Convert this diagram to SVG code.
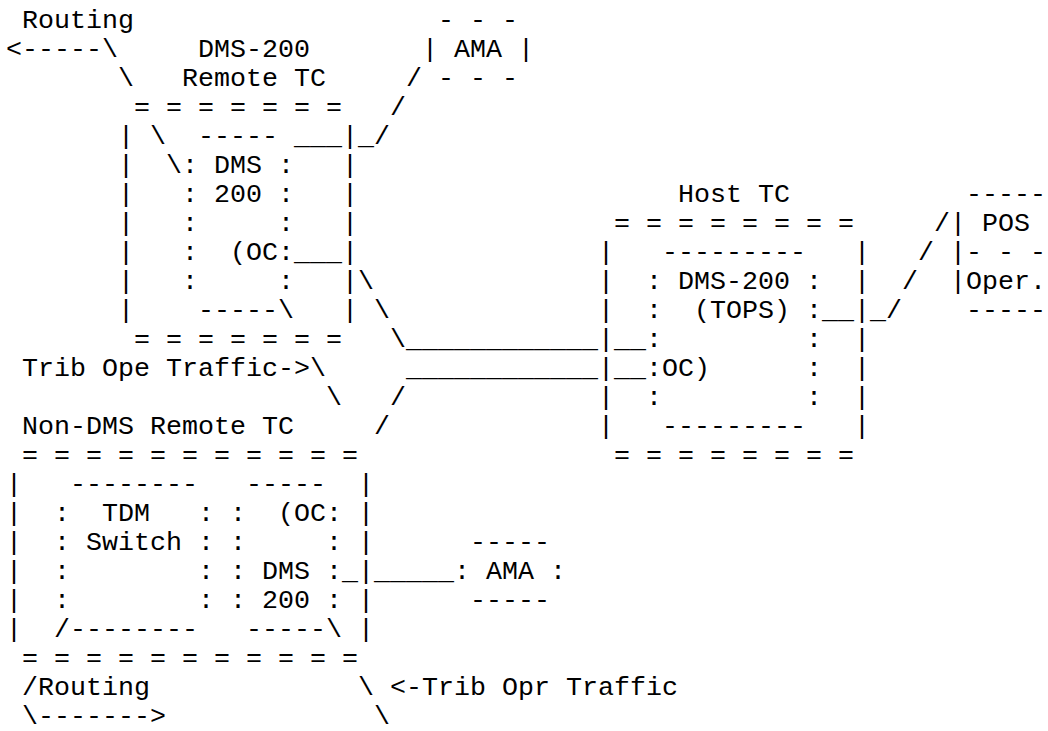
<svg xmlns="http://www.w3.org/2000/svg" width="1048" height="731" viewBox="0 0 1048 731" xml:space="preserve">
<style>
text { font-family: "Liberation Mono", "Courier New", monospace; font-size: 26.667px; fill: #000; white-space: pre; }
</style>
<rect width="1048" height="731" fill="#fff"/>
<g id="connectors">
<text x="22" y="28">Routing</text>
<text x="6" y="57">&lt;-----\</text>
<text x="118" y="86">\</text>
<text x="406" y="86">/</text>
<text x="390" y="115">/</text>
<text x="150" y="144">\</text>
<text x="294" y="144">___</text>
<text x="358" y="144">_/</text>
<text x="166" y="173">\</text>
<text x="934" y="231">/</text>
<text x="294" y="260">___</text>
<text x="918" y="260">/</text>
<text x="358" y="289">\</text>
<text x="902" y="289">/</text>
<text x="374" y="318">\</text>
<text x="822" y="318">__</text>
<text x="870" y="318">_/</text>
<text x="390" y="347">\____________</text>
<text x="614" y="347">__</text>
<text x="22" y="376">Trib Ope Traffic-&gt;\</text>
<text x="406" y="376">____________</text>
<text x="614" y="376">__</text>
<text x="326" y="405">\</text>
<text x="390" y="405">/</text>
<text x="374" y="434">/</text>
<text x="342" y="579">_</text>
<text x="374" y="579">_____</text>
<text x="22" y="695">/Routing</text>
<text x="358" y="695">\</text>
<text x="390" y="695">&lt;-Trib Opr Traffic</text>
<text x="22" y="724">\-------&gt;</text>
<text x="374" y="724">\</text>
</g>
<g id="node-dms200-remote-tc">
<text x="198" y="57">DMS-200</text>
<text x="182" y="86">Remote TC</text>
<text x="134" y="115">= = = = = = =</text>
<text x="118" y="144">|</text><text x="198" y="144">-----</text><text x="342" y="144">|</text>
<text x="118" y="173">|</text><text x="182" y="173">: DMS :</text><text x="342" y="173">|</text>
<text x="118" y="202">|</text><text x="182" y="202">: 200 :</text><text x="342" y="202">|</text>
<text x="118" y="231">|</text><text x="182" y="231">:     :</text><text x="342" y="231">|</text>
<text x="118" y="260">|</text><text x="182" y="260">:  (OC:</text><text x="342" y="260">|</text>
<text x="118" y="289">|</text><text x="182" y="289">:     :</text><text x="342" y="289">|</text>
<text x="118" y="318">|</text><text x="198" y="318">-----\</text><text x="342" y="318">|</text>
<text x="134" y="347">= = = = = = =</text>
</g>
<g id="node-ama-top">
<text x="438" y="28">- - -</text>
<text x="422" y="57">| AMA |</text>
<text x="438" y="86">- - -</text>
</g>
<g id="node-host-tc">
<text x="678" y="202">Host TC</text>
<text x="614" y="231">= = = = = = = =</text>
<text x="598" y="260">|</text><text x="662" y="260">---------</text><text x="854" y="260">|</text>
<text x="598" y="289">|</text><text x="646" y="289">: DMS-200 :</text><text x="854" y="289">|</text>
<text x="598" y="318">|</text><text x="646" y="318">:  (TOPS) :</text><text x="854" y="318">|</text>
<text x="598" y="347">|</text><text x="646" y="347">:         :</text><text x="854" y="347">|</text>
<text x="598" y="376">|</text><text x="646" y="376">:OC)      :</text><text x="854" y="376">|</text>
<text x="598" y="405">|</text><text x="646" y="405">:         :</text><text x="854" y="405">|</text>
<text x="598" y="434">|</text><text x="662" y="434">---------</text><text x="854" y="434">|</text>
<text x="614" y="463">= = = = = = = =</text>
</g>
<g id="node-pos">
<text x="966" y="202">-----</text>
<text x="950" y="231">| POS</text>
<text x="950" y="260">|- - -</text>
<text x="950" y="289">|Oper.</text>
<text x="966" y="318">-----</text>
</g>
<g id="node-non-dms-remote-tc">
<text x="22" y="434">Non-DMS Remote TC</text>
<text x="22" y="463">= = = = = = = = = = =</text>
<text x="6" y="492">|</text><text x="70" y="492">--------</text><text x="246" y="492">-----</text><text x="358" y="492">|</text>
<text x="6" y="521">|</text><text x="54" y="521">:  TDM   : :  (OC:</text><text x="358" y="521">|</text>
<text x="6" y="550">|</text><text x="54" y="550">: Switch : :     :</text><text x="358" y="550">|</text>
<text x="6" y="579">|</text><text x="54" y="579">:        : : DMS :</text><text x="358" y="579">|</text>
<text x="6" y="608">|</text><text x="54" y="608">:        : : 200 :</text><text x="358" y="608">|</text>
<text x="6" y="637">|</text><text x="54" y="637">/--------   -----\</text><text x="358" y="637">|</text>
<text x="22" y="666">= = = = = = = = = = =</text>
</g>
<g id="node-ama-bottom">
<text x="470" y="550">-----</text>
<text x="454" y="579">: AMA :</text>
<text x="470" y="608">-----</text>
</g>
</svg>
